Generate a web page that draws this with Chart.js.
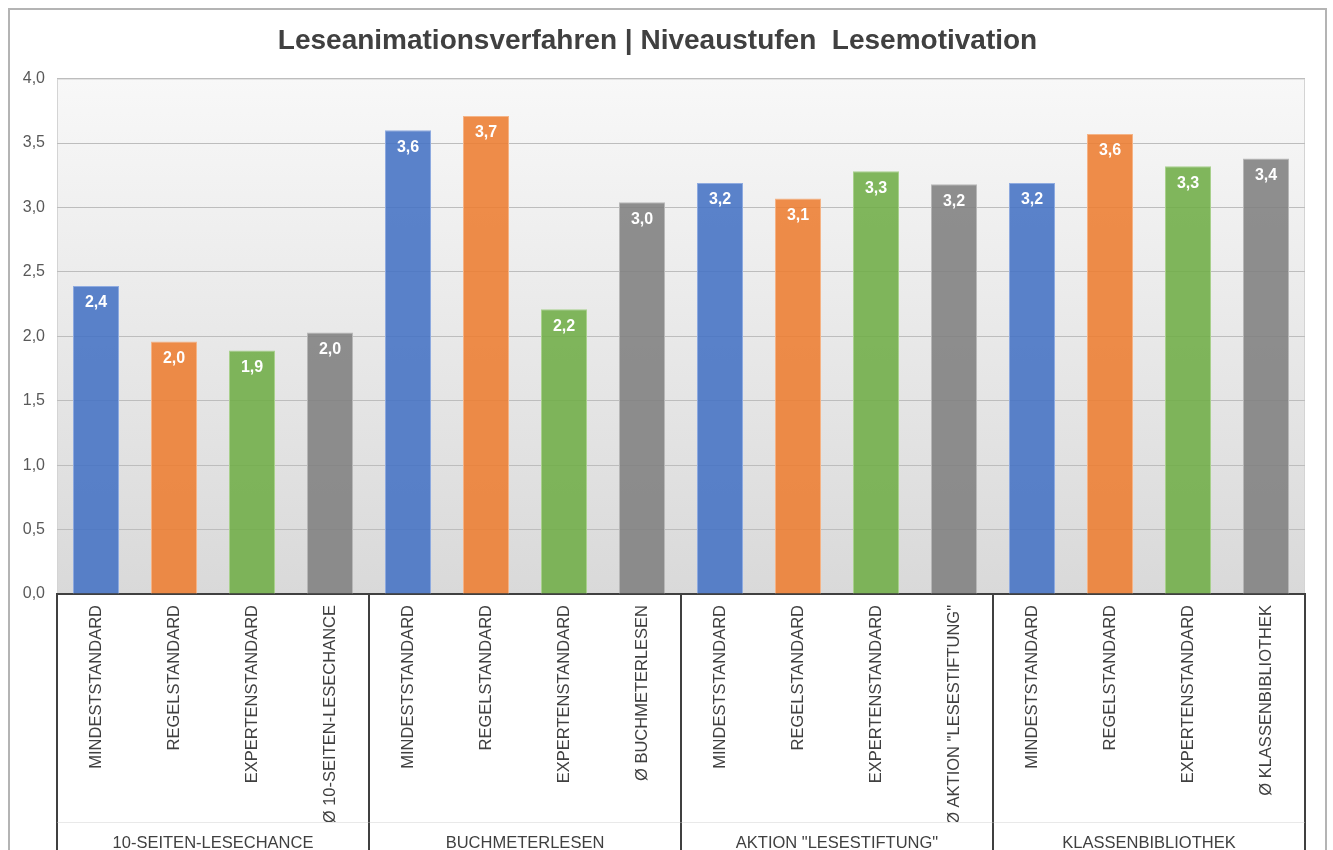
<!DOCTYPE html>
<html>
<head>
<meta charset="utf-8">
<script src="https://cdn.jsdelivr.net/npm/chart.js@4/dist/chart.umd.min.js"></script>
<style>
  html, body { margin: 0; padding: 0; background: #fff; overflow: hidden; }
  #wrap { position: relative; width: 1333px; height: 850px; }
  #frame { position: absolute; left: 8px; top: 8px; width: 1319px; height: 900px;
           border: 2px solid #b4b4b4; box-sizing: border-box; pointer-events: none; }
  canvas { position: absolute; left: 0; top: 0; }
</style>
</head>
<body>
<div id="wrap">
  <canvas id="chart" width="1333" height="850"></canvas>
  <div id="frame"></div>
</div>
<script>
const groups = ["10-SEITEN-LESECHANCE", "BUCHMETERLESEN", 'AKTION "LESESTIFTUNG"', "KLASSENBIBLIOTHEK"];
const categories = [
  "MINDESTSTANDARD", "REGELSTANDARD", "EXPERTENSTANDARD", "Ø 10-SEITEN-LESECHANCE",
  "MINDESTSTANDARD", "REGELSTANDARD", "EXPERTENSTANDARD", "Ø BUCHMETERLESEN",
  "MINDESTSTANDARD", "REGELSTANDARD", "EXPERTENSTANDARD", 'Ø AKTION "LESESTIFTUNG"',
  "MINDESTSTANDARD", "REGELSTANDARD", "EXPERTENSTANDARD", "Ø KLASSENBIBLIOTHEK"
];
const values = [
  2.39, 1.96, 1.89, 2.03,
  3.60, 3.71, 2.21, 3.04,
  3.19, 3.07, 3.28, 3.18,
  3.19, 3.57, 3.32, 3.38
];
const yTicks = [0, 0.5, 1, 1.5, 2, 2.5, 3, 3.5, 4];

const fills = ["rgba(68,114,196,0.88)", "rgba(237,125,49,0.88)", "rgba(112,173,71,0.88)", "rgba(127,127,127,0.88)"];
const edges = ["#8fabe0", "#f5b487", "#a9d18e", "#b8b8b8"];

const fmt = (v) => v.toFixed(1).replace(".", ",");
const FONT = "'Liberation Sans', Arial, sans-serif";

// plot area gradient
const plotBg = {
  id: "plotBg",
  beforeDraw(chart) {
    const { ctx, chartArea: a } = chart;
    const g = ctx.createLinearGradient(0, a.top, 0, a.bottom);
    g.addColorStop(0, "#f8f8f8");
    g.addColorStop(1, "#d9d9d9");
    ctx.save();
    ctx.fillStyle = g;
    ctx.fillRect(a.left, a.top, a.right - a.left, a.bottom - a.top);
    ctx.strokeStyle = "#d4d4d4";
    ctx.lineWidth = 1;
    ctx.strokeRect(a.left + 0.5, a.top + 0.5, a.right - a.left - 1, a.bottom - a.top);
    ctx.restore();
  }
};

// white value labels inside the bar tops
const valueLabels = {
  id: "valueLabels",
  afterDatasetsDraw(chart) {
    const { ctx } = chart;
    const meta = chart.getDatasetMeta(0);
    ctx.save();
    ctx.font = "bold 16px " + FONT;
    ctx.fillStyle = "#ffffff";
    ctx.textAlign = "center";
    ctx.textBaseline = "middle";
    meta.data.forEach((bar, i) => {
      ctx.fillText(fmt(values[i]), bar.x, bar.y + 17);
    });
    ctx.restore();
  }
};

// group dividers below the axis
const groupLines = {
  id: "groupLines",
  afterDraw(chart) {
    const { ctx, chartArea: a, scales } = chart;
    const x = scales.x;
    const per = categories.length / groups.length;
    const xs = [a.left];
    for (let g = 1; g < groups.length; g++) {
      xs.push((x.getPixelForValue(g * per - 1) + x.getPixelForValue(g * per)) / 2);
    }
    xs.push(a.right);
    ctx.save();
    ctx.strokeStyle = "#404040";
    ctx.lineWidth = 2;
    xs.forEach((px) => {
      ctx.beginPath();
      ctx.moveTo(Math.round(px), a.bottom);
      ctx.lineTo(Math.round(px), chart.height);
      ctx.stroke();
    });
    ctx.strokeStyle = "rgba(200,200,200,0.4)";
    ctx.lineWidth = 1;
    const yl = x.bottom + 0.5;
    ctx.beginPath();
    ctx.moveTo(a.left, yl);
    ctx.lineTo(a.right, yl);
    ctx.stroke();
    ctx.restore();
  }
};

new Chart(document.getElementById("chart"), {
  type: "bar",
  data: {
    labels: categories,
    datasets: [{
      data: values,
      backgroundColor: values.map((_, i) => fills[i % 4]),
      borderColor: values.map((_, i) => edges[i % 4]),
      borderWidth: 1,
      categoryPercentage: 1,
      barPercentage: 0.59
    }]
  },
  options: {
    responsive: false,
    animation: false,
    layout: { padding: { left: 10, right: 28, top: 0, bottom: 0 } },
    plugins: {
      legend: { display: false },
      tooltip: { enabled: false },
      title: {
        display: true,
        text: "Leseanimationsverfahren | Niveaustufen  Lesemotivation",
        color: "#404040",
        font: { family: FONT, size: 28, weight: "bold" },
        padding: { top: 24, bottom: 21 }
      }
    },
    scales: {
      x: {
        weight: 0,
        grid: { display: false },
        border: { display: true, color: "#404040", width: 2 },
        ticks: {
          autoSkip: false,
          minRotation: 90,
          maxRotation: 90,
          padding: 3,
          color: "#404040",
          font: { family: FONT, size: 16.5 }
        },
        afterFit(scale) { scale.height = 228; }
      },
      x2: {
        type: "category",
        labels: groups,
        position: "bottom",
        weight: 1,
        offset: true,
        grid: { display: false },
        border: { display: false },
        ticks: {
          padding: 4,
          color: "#404040",
          font: { family: FONT, size: 16.5 }
        },
        afterFit(scale) { scale.height = 28; }
      },
      y: {
        min: 0,
        max: 4,
        grid: { color: "#bdbdbd", drawTicks: false },
        border: { display: false },
        afterBuildTicks(scale) { scale.ticks = yTicks.map((v) => ({ value: v })); },
        ticks: {
          padding: 12,
          color: "#595959",
          font: { family: FONT, size: 16 },
          callback: (v) => fmt(v)
        },
        afterFit(scale) { scale.width = 47; }
      }
    }
  },
  plugins: [plotBg, valueLabels, groupLines]
});
</script>
</body>
</html>
